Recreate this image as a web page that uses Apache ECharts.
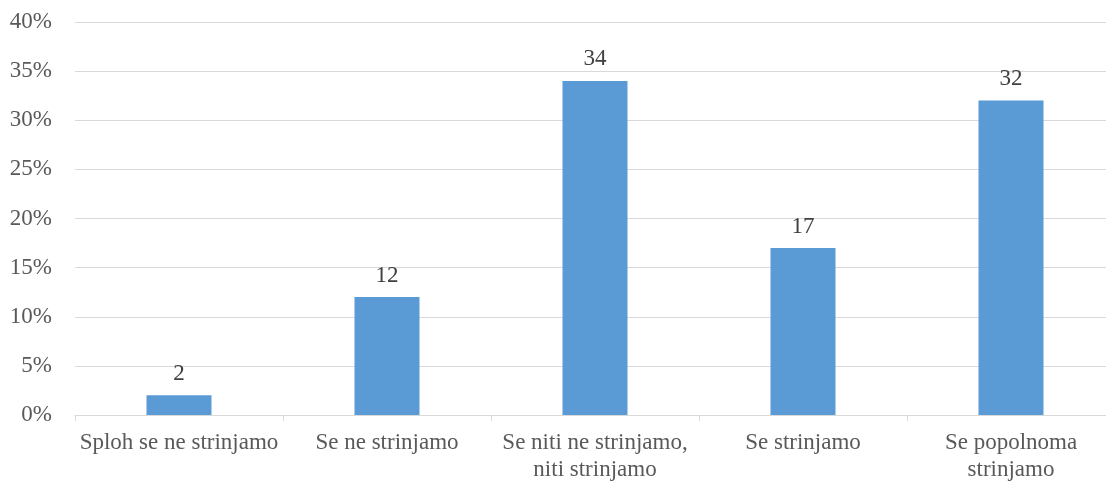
<!DOCTYPE html>
<html>
<head>
<meta charset="utf-8">
<script src="https://cdn.jsdelivr.net/npm/echarts@6/dist/echarts.min.js"></script>
<style>
  html, body { margin: 0; padding: 0; background: #ffffff; }
  #chart { width: 1106px; height: 482px; }
</style>
</head>
<body>
<div id="chart"></div>
<script>
// Survey answers (share of respondents, %)
const categories = [
  'Sploh se ne strinjamo',
  'Se ne strinjamo',
  'Se niti ne strinjamo,\nniti strinjamo',
  'Se strinjamo',
  'Se popolnoma\nstrinjamo'
];
const values = [2, 12, 34, 17, 32];
const yTicks = [0, 5, 10, 15, 20, 25, 30, 35, 40];

const font = "'Liberation Serif', 'Times New Roman', serif";
const chart = echarts.init(document.getElementById('chart'), null, { renderer: 'canvas' });

chart.setOption({
  animation: false,
  backgroundColor: '#ffffff',
  // plot area runs a little past the right edge of the canvas
  grid: { left: 75, width: 1040, top: 22, bottom: 67, containLabel: false, outerBoundsMode: 'none' },
  xAxis: {
    type: 'category',
    data: categories,
    axisLine: { show: true, lineStyle: { color: '#d9d9d9', width: 1 } },
    axisTick: { show: true, length: 6, lineStyle: { color: '#d9d9d9' } },
    axisLabel: {
      color: '#595959', fontFamily: font, fontSize: 23,
      lineHeight: 27, margin: 14, interval: 0
    }
  },
  yAxis: {
    type: 'value',
    min: yTicks[0],
    max: yTicks[yTicks.length - 1],
    interval: 5,
    axisLine: { show: false },
    axisTick: { show: false },
    splitLine: { lineStyle: { color: '#d9d9d9', width: 1 } },
    axisLabel: {
      color: '#595959', fontFamily: font, fontSize: 23, margin: 23,
      formatter: v => v + '%'
    }
  },
  series: [{
    type: 'bar',
    data: values,
    barWidth: 65,
    itemStyle: { color: '#5b9bd5' },
    label: {
      show: true, position: 'top', distance: 10,
      color: '#404040', fontFamily: font, fontSize: 23,
      formatter: p => p.value
    }
  }]
});
</script>
</body>
</html>
